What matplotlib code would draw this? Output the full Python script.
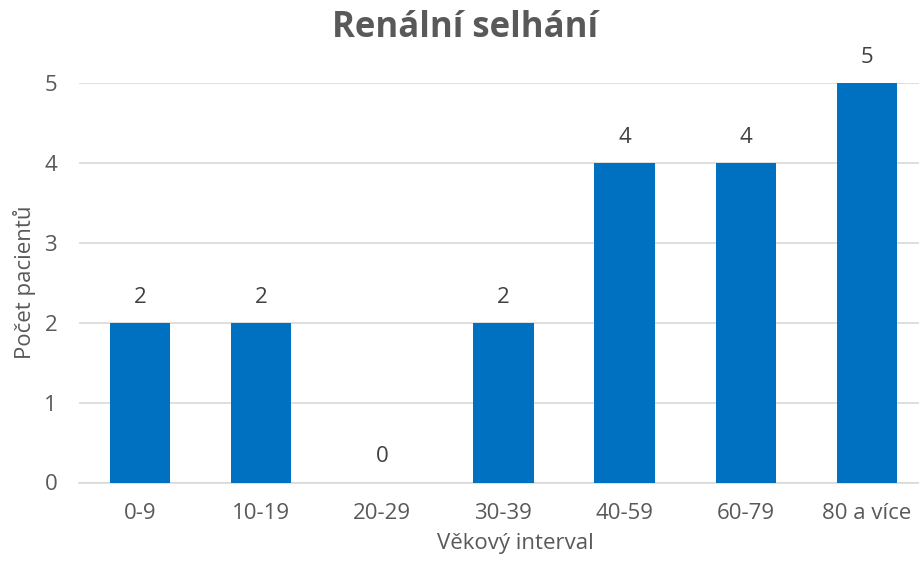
import matplotlib
matplotlib.use("Agg")
import matplotlib.pyplot as plt

categories = ["0-9", "10-19", "20-29", "30-39", "40-59", "60-79", "80 a více"]
values = [2, 2, 0, 2, 4, 4, 5]
yticks = [0, 1, 2, 3, 4, 5]

plt.rcParams['font.family'] = ['Open Sans', 'DejaVu Sans']
text_col = "#595959"
label_col = "#404040"
fs = 16

fig = plt.figure(figsize=(9.2, 5.65), dpi=100)
W, H = 920, 565
x0, x1 = 79.4, 927.6
y0, y5 = 482.5, 83.0
ax = fig.add_axes([x0 / W, 1 - y0 / H, (x1 - x0) / W, (y0 - y5) / H])

xs = range(len(categories))
ax.bar(xs, values, width=0.5, color="#0070C0", zorder=3)
ax.set_xlim(-0.5, len(categories) - 0.5)
ax.set_ylim(0, 5)
ax.set_yticks(yticks)
ax.set_xticks(list(xs))
ax.set_xticklabels(categories)
ax.grid(axis='y', color="#D9D9D9", linewidth=1.2, zorder=0)
ax.set_axisbelow(True)
for s in ["top", "right", "left"]:
    ax.spines[s].set_visible(False)
ax.spines["bottom"].set_color("#D9D9D9")
ax.spines["bottom"].set_linewidth(1.2)
ax.tick_params(axis='both', length=0, labelsize=fs, colors=text_col)
ax.tick_params(axis='x', pad=15)
ax.tick_params(axis='y', pad=16)

for xi, v in zip(xs, values):
    ax.text(xi, v + 0.32, str(v), ha='center', va='center', fontsize=fs, color=label_col, clip_on=False)

fig.text(515 / W, 1 - 543 / H, "Věkový interval", ha='center', va='center',
         fontsize=fs, color=text_col)
fig.text(25 / W, 1 - 282 / H, "Počet pacientů", ha='center', va='center',
         fontsize=fs, color=text_col, rotation=90)
fig.text(465 / W, 1 - 28 / H, "Renální selhání", ha='center', va='center',
         fontsize=25, fontweight='bold', color=text_col)

fig.savefig("out.png", dpi=100)
